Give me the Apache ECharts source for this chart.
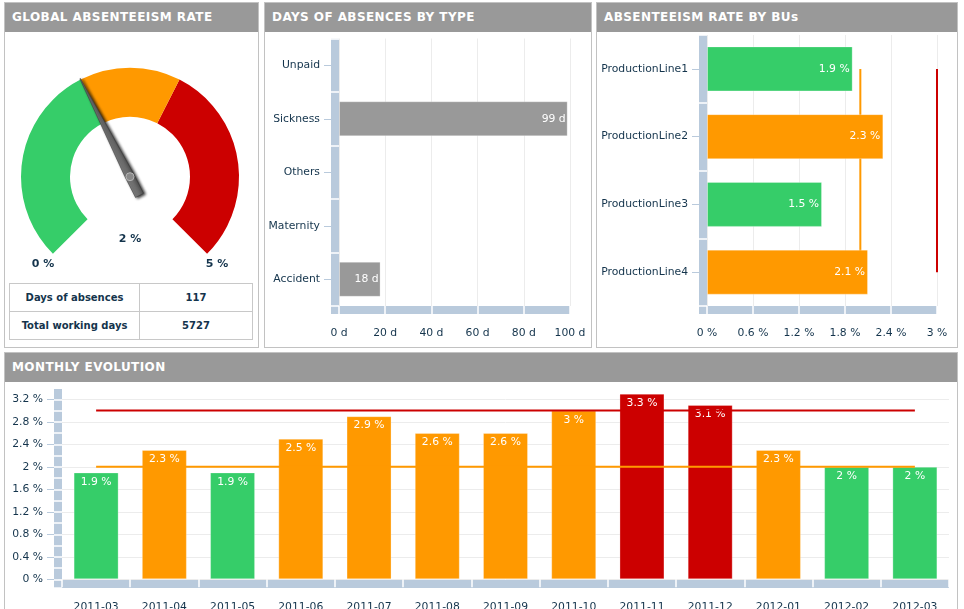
<!DOCTYPE html>
<html>
<head>
<meta charset="utf-8">
<title>Absenteeism dashboard</title>
<script src="https://cdn.jsdelivr.net/npm/echarts@6/dist/echarts.min.js"></script>
<style>
html,body{margin:0;padding:0;background:#fff;width:964px;height:609px;overflow:hidden;font-family:"DejaVu Sans",Verdana,sans-serif;}
.panel{position:absolute;box-sizing:border-box;border:1px solid #c2c2c2;outline:none;background:#fff;}
.panel .head{position:absolute;left:0;right:0;top:0;height:29px;background:#999;color:#fff;font-weight:bold;font-size:12px;line-height:29px;padding-left:7px;letter-spacing:.43px;white-space:nowrap;}
#chart{position:absolute;left:0;top:0;width:964px;height:609px;}
table{position:absolute;left:9px;top:283px;width:244px;height:57px;border-collapse:collapse;font-size:10px;font-weight:bold;color:#14344c;text-align:center;background:#fff;z-index:3;table-layout:fixed;}
td{border:1px solid #c8c8c8;padding:0;}
</style>
</head>
<body>
<div class="panel" style="left:4px;top:2px;width:255px;height:346px"><div class="head" id="t0"></div></div>
<div class="panel" style="left:264px;top:2px;width:328px;height:346px"><div class="head" id="t1"></div></div>
<div class="panel" style="left:596px;top:2px;width:362px;height:346px"><div class="head" id="t2"></div></div>
<div class="panel" style="left:4px;top:352px;width:954px;height:270px"><div class="head" id="t3"></div></div>
<div id="chart"></div>
<table id="summary"></table>
<script>
var panelTitles = ['GLOBAL ABSENTEEISM RATE', 'DAYS OF ABSENCES BY TYPE', 'ABSENTEEISM RATE BY BUs', 'MONTHLY EVOLUTION'];
var gaugeValue = 2, gaugeMin = 0, gaugeMax = 5;
var summaryLabels = ['Days of absences', 'Total working days'];
var summaryValues = [117, 5727];
var typeCategories = ['Unpaid', 'Sickness', 'Others', 'Maternity', 'Accident'];
var typeValues = [null, 99, null, null, 18];
var buCategories = ['ProductionLine1', 'ProductionLine2', 'ProductionLine3', 'ProductionLine4'];
var buValues = [1.9, 2.3, 1.5, 2.1];
var months = ['2011-03','2011-04','2011-05','2011-06','2011-07','2011-08','2011-09','2011-10','2011-11','2011-12','2012-01','2012-02','2012-03'];
var monthValues = [1.9, 2.3, 1.9, 2.5, 2.9, 2.6, 2.6, 3, 3.3, 3.1, 2.3, 2, 2];
var warnLimit = 2, alertLimit = 3;
var monthTicks = [0, 0.4, 0.8, 1.2, 1.6, 2, 2.4, 2.8, 3.2];
var monthMinorTicks = [0, 0.2, 0.4, 0.6, 0.8, 1, 1.2, 1.4, 1.6, 1.8, 2, 2.2, 2.4, 2.6, 2.8, 3, 3.2];

var GREEN = '#36cd69', ORANGE = '#ff9900', RED = '#cc0000', GREY = '#999999';
var STRIP = '#b9cadc', GRID = '#ececec', TEXT = '#14344c';
var FONT = '"DejaVu Sans", Verdana, sans-serif', FS = 10.8;

panelTitles.forEach(function (t, i) { document.getElementById('t' + i).textContent = t; });
document.getElementById('summary').innerHTML = summaryLabels.map(function (l, i) {
  return '<tr><td style="width:129px">' + l + '</td><td>' + summaryValues[i] + '</td></tr>';
}).join('');

function rateColor(v) { return v <= warnLimit ? GREEN : (v <= alertLimit ? ORANGE : RED); }
function rateBars(vals) {
  return vals.map(function (v) {
    return { value: v, itemStyle: { color: rateColor(v), borderColor: 'rgba(255,255,255,.28)', borderWidth: 1 } };
  });
}
function pct(v) { return v + ' %'; }
function days(v) { return v + ' d'; }
var barLabel = function (pos, fmt, dist) {
  return { show: true, position: pos, distance: dist, color: '#fff', fontFamily: FONT, fontSize: FS, formatter: function (p) { return fmt(p.value); } };
};
function catStrip(gridIndex, position, cats, opts) {
  return Object.assign({
    type: 'category', gridIndex: gridIndex, position: position, data: cats, offset: 4,
    axisLine: { show: true, onZero: false, lineStyle: { color: STRIP, width: 8, cap: 'butt' } },
    axisTick: { show: true, alignWithLabel: true, length: 11, lineStyle: { color: STRIP, width: 1 } },
    axisLabel: { color: TEXT, fontFamily: FONT, fontSize: FS, margin: 15 },
    splitLine: { show: false }
  }, opts || {});
}
function catSep(gridIndex, position, cats, opts) {
  return Object.assign({
    type: 'category', gridIndex: gridIndex, position: position, data: cats, offset: 0,
    axisLine: { show: false, onZero: false },
    axisTick: { show: true, length: 8, lineStyle: { color: '#fff', width: 1.5 } },
    axisLabel: { show: false }, splitLine: { show: false }
  }, opts || {});
}
function valStrip(gridIndex, position, max, interval, fmt, margin) {
  return {
    type: 'value', gridIndex: gridIndex, position: position, min: 0, max: max, interval: interval, offset: 4,
    axisLine: { show: true, onZero: false, lineStyle: { color: STRIP, width: 8, cap: 'butt' } },
    axisTick: { show: false },
    axisLabel: { color: TEXT, fontFamily: FONT, fontSize: FS, margin: margin, formatter: fmt, hideOverlap: false },
    splitLine: { show: true, lineStyle: { color: GRID, width: 1 } }
  };
}
function valSep(gridIndex, position, max, interval) {
  return {
    type: 'value', gridIndex: gridIndex, position: position, min: 0, max: max, interval: interval, offset: 0,
    axisLine: { show: false, onZero: false },
    axisTick: { show: true, length: 8, lineStyle: { color: '#fff', width: 1.5 } },
    axisLabel: { show: false }, splitLine: { show: false }
  };
}
function corner(x, y) {
  return { type: 'rect', z: -1, shape: { x: x, y: y, width: 8, height: 8 }, style: { fill: STRIP } };
}

var chart = echarts.init(document.getElementById('chart'), null, { renderer: 'canvas', width: 964, height: 609 });
chart.setOption({
  animation: false,
  backgroundColor: 'transparent',
  textStyle: { fontFamily: FONT },
  graphic: [corner(331, 306), corner(699, 306), corner(54, 579.3)],
  grid: [
    { left: 339, top: 38.5, width: 231, height: 267.5, outerBoundsMode: 'none' },
    { left: 707, top: 35, width: 230, height: 271, outerBoundsMode: 'none' },
    { left: 62, top: 389, width: 887, height: 190.3, outerBoundsMode: 'none' }
  ],
  xAxis: [
    valStrip(0, 'bottom', 100, 20, days, 18),
    valSep(0, 'bottom', 100, 20),
    valStrip(1, 'bottom', 3, 0.6, pct, 18),
    valSep(1, 'bottom', 3, 0.6),
    catStrip(2, 'bottom', months, { axisTick: { show: false }, axisLabel: { color: TEXT, fontFamily: FONT, fontSize: FS, margin: 18, interval: 0 } }),
    catSep(2, 'bottom', months)
  ],
  yAxis: [
    catStrip(0, 'left', typeCategories, { inverse: true }),
    catSep(0, 'left', typeCategories, { inverse: true }),
    catStrip(1, 'left', buCategories, { inverse: true }),
    catSep(1, 'left', buCategories, { inverse: true }),
    {
      type: 'value', gridIndex: 2, position: 'left', min: 0, max: 3.383, offset: 4,
      axisLine: { show: true, onZero: false, lineStyle: { color: STRIP, width: 8, cap: 'butt' } },
      axisTick: { show: true, length: 11, customValues: monthTicks, lineStyle: { color: STRIP, width: 1 } },
      axisLabel: { color: TEXT, fontFamily: FONT, fontSize: FS, margin: 15, customValues: monthTicks, formatter: pct },
      splitLine: { show: true, lineStyle: { color: GRID, width: 1 } }
    },
    {
      type: 'value', gridIndex: 2, position: 'left', min: 0, max: 3.383, offset: 0,
      axisLine: { show: false, onZero: false },
      axisTick: { show: true, length: 8, customValues: monthMinorTicks, lineStyle: { color: '#fff', width: 1.5 } },
      axisLabel: { show: false }, splitLine: { show: false }
    }
  ],
  series: [
    {
      type: 'gauge', center: [130, 176.7], radius: 109, startAngle: 225, endAngle: -45,
      min: gaugeMin, max: gaugeMax, splitNumber: 1,
      axisLine: { lineStyle: { width: 49, color: [[0.4, GREEN], [0.6, ORANGE], [1, RED]] } },
      axisTick: { show: false }, splitLine: { show: false }, axisLabel: { show: false },
      pointer: {
        icon: 'path://M49.5,0 L51,0 L60,82 L60,100 L40,100 L40,82 Z',
        length: 131, width: 9, offsetCenter: [0, 21],
        itemStyle: {
          color: { type: 'linear', x: 0, y: 0, x2: 1, y2: 0, colorStops: [{ offset: 0, color: '#8c8c8c' }, { offset: 1, color: '#505050' }] },
          borderColor: '#3c3c3c', borderWidth: 0.5,
          shadowColor: 'rgba(0,0,0,.8)', shadowBlur: 3, shadowOffsetX: 2, shadowOffsetY: 1
        }
      },
      anchor: { show: true, showAbove: true, size: 8, icon: 'circle', itemStyle: { color: '#8a8a8a', borderColor: '#b5b5b5', borderWidth: 1 } },
      title: { show: false },
      detail: { show: true, offsetCenter: [0, 62], valueAnimation: false, color: TEXT, fontFamily: FONT, fontSize: 11, fontWeight: 'bold', formatter: pct },
      data: [{ value: gaugeValue }]
    },
    {
      type: 'gauge', center: [130, 176.7], radius: 109, startAngle: 225, endAngle: -45,
      min: gaugeMin, max: gaugeMax, splitNumber: 1,
      axisLine: { show: false }, axisTick: { show: false }, splitLine: { show: false }, axisLabel: { show: false },
      pointer: { show: false }, anchor: { show: false }, title: { show: false }, progress: { show: false },
      detail: { show: true, valueAnimation: false, color: TEXT, fontFamily: FONT, fontSize: 11, fontWeight: 'bold', formatter: pct },
      data: [
        { value: gaugeMin, detail: { offsetCenter: [-87, 87] } },
        { value: gaugeMax, detail: { offsetCenter: [87, 87] } }
      ]
    },
    {
      type: 'bar', xAxisIndex: 0, yAxisIndex: 0, data: typeValues, barWidth: 35, z: 3,
      itemStyle: { color: GREY, borderColor: 'rgba(255,255,255,.28)', borderWidth: 1 },
      label: barLabel('insideRight', days, 2)
    },
    { type: 'line', xAxisIndex: 2, yAxisIndex: 2, data: buCategories.map(function (c) { return [warnLimit, c]; }), showSymbol: false, symbol: 'none', lineStyle: { color: ORANGE, width: 2 }, z: 1, clip: false },
    { type: 'line', xAxisIndex: 2, yAxisIndex: 2, data: buCategories.map(function (c) { return [alertLimit, c]; }), showSymbol: false, symbol: 'none', lineStyle: { color: RED, width: 2 }, z: 1, clip: false },
    {
      type: 'bar', xAxisIndex: 2, yAxisIndex: 2, data: rateBars(buValues), barWidth: 45, z: 3,
      label: barLabel('insideRight', pct, 3)
    },
    {
      type: 'bar', xAxisIndex: 4, yAxisIndex: 4, data: rateBars(monthValues), barWidth: 45, z: 2,
      label: barLabel('insideTop', pct, 4)
    },
    { type: 'line', xAxisIndex: 4, yAxisIndex: 4, data: months.map(function () { return warnLimit; }), showSymbol: false, symbol: 'none', lineStyle: { color: ORANGE, width: 2 }, z: 5 },
    { type: 'line', xAxisIndex: 4, yAxisIndex: 4, data: months.map(function () { return alertLimit; }), showSymbol: false, symbol: 'none', lineStyle: { color: RED, width: 2 }, z: 5 }
  ]
});
</script>
</body>
</html>
